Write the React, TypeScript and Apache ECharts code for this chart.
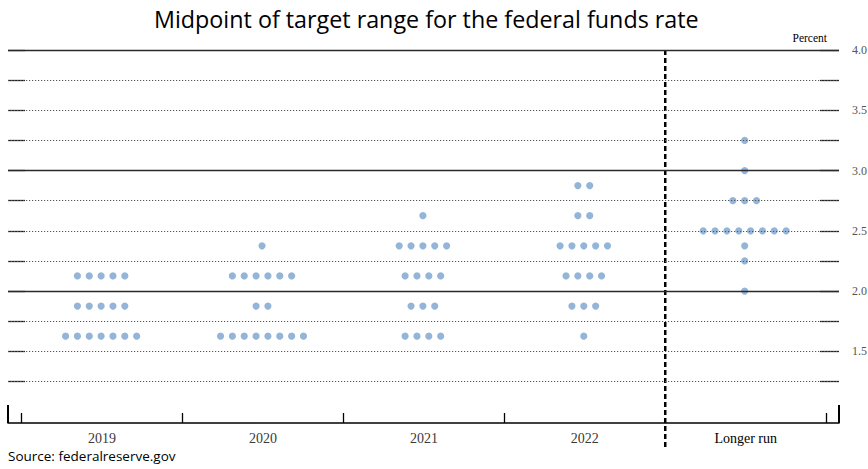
import React, { useEffect, useRef } from "react";
import * as echarts from "echarts";

// ---- data ----
const categories = ["2019", "2020", "2021", "2022", "Longer run"];
// [rate midpoint, number of participants]
const dots2019 = [[2.125, 5], [1.875, 5], [1.625, 7]];
const dots2020 = [[2.375, 1], [2.125, 6], [1.875, 2], [1.625, 8]];
const dots2021 = [[2.625, 1], [2.375, 5], [2.125, 4], [1.875, 3], [1.625, 4]];
const dots2022 = [[2.875, 2], [2.625, 2], [2.375, 5], [2.125, 4], [1.875, 3], [1.625, 1]];
const dotsLongerRun = [[3.25, 1], [3.0, 1], [2.75, 3], [2.5, 8], [2.375, 1], [2.25, 1], [2.0, 1]];
const dotsByCategory = [dots2019, dots2020, dots2021, dots2022, dotsLongerRun];

const gridValues = [1.25, 1.5, 1.75, 2.0, 2.25, 2.5, 2.75, 3.0, 3.25, 3.5, 3.75, 4.0];
const solidGridValues = [2.0, 3.0, 4.0];
const yLabelValues = [1.5, 2.0, 2.5, 3.0, 3.5, 4.0];
const categoryBoundaries = [-0.5, 0.5, 1.5, 2.5, 4.5];
const dividerPosition = 3.5;

const Y_MIN = 0.905;
const Y_MAX = 4.0;
const X_MIN = -0.585;
const X_MAX = 4.58;

const DOT_COLOR = "#95b5d8";
const SERIF = "'Liberation Serif', 'DejaVu Serif', serif";
const SANS = "'Open Sans', 'Noto Sans', sans-serif";

export default function App() {
  const ref = useRef<HTMLDivElement>(null);

  useEffect(() => {
    if (!ref.current) return;
    const chart = echarts.init(ref.current, null, { renderer: "svg" });

    const dotData: number[][] = [];
    dotsByCategory.forEach((rows, ci) => {
      rows.forEach(([rate, count]) => dotData.push([ci, rate, count]));
    });

    const gridLines = gridValues.map((v) => {
      const solid = solidGridValues.includes(v);
      return {
        yAxis: v,
        lineStyle: solid
          ? { color: "#2a2a2a", width: 1.3, type: "solid" }
          : { color: "#555", width: 1, type: [1.2, 1.8] },
      };
    });

    const option: any = {
      animation: false,
      backgroundColor: "#ffffff",
      title: [
        {
          text: "Midpoint of target range for the federal funds rate",
          left: 149,
          top: 2,
          textStyle: { fontFamily: SANS, fontSize: 23.3, fontWeight: "normal", color: "#000" },
        },
        {
          text: "Source: federalreserve.gov",
          left: 8,
          top: 449,
          padding: 0,
          textStyle: { fontFamily: SANS, fontSize: 13.5, fontWeight: "normal", color: "#000" },
        },
      ],
      grid: {
        left: 8,
        right: 29,
        top: 50,
        bottom: 46,
        containLabel: false,
        outerBoundsMode: "none",
      },
      xAxis: [
        {
          type: "value",
          min: X_MIN,
          max: X_MAX,
          position: "bottom",
          axisLine: { show: true, onZero: false, lineStyle: { color: "#000", width: 1.6 } },
          axisTick: {
            show: true,
            inside: true,
            length: 10,
            customValues: categoryBoundaries,
            lineStyle: { color: "#000", width: 1.3 },
          },
          axisLabel: {
            show: true,
            customValues: [0, 1, 2, 3, 4],
            margin: 8,
            formatter: (v: number) => {
              const i = Math.round(v);
              return i === 4 ? `{lr|${categories[i]}}` : `{yr|${categories[i]}}`;
            },
            rich: {
              yr: { fontFamily: SERIF, fontSize: 14, color: "#3a3a3a" },
              lr: { fontFamily: SERIF, fontSize: 14, color: "#000" },
            },
          },
          splitLine: { show: false },
        },
        {
          type: "value",
          min: X_MIN,
          max: X_MAX,
          position: "bottom",
          axisLine: { show: false, onZero: false },
          axisTick: {
            show: true,
            inside: true,
            length: 18,
            customValues: [X_MIN, X_MAX],
            lineStyle: { color: "#000", width: 2 },
          },
          axisLabel: { show: false },
          splitLine: { show: false },
        },
      ],
      yAxis: [
        {
          type: "value",
          min: Y_MIN,
          max: Y_MAX,
          position: "left",
          axisLine: { show: false, onZero: false },
          axisTick: {
            show: true,
            inside: true,
            length: 17,
            customValues: gridValues,
            lineStyle: { color: "#222", width: 1.3 },
          },
          axisLabel: { show: false },
          splitLine: { show: false },
        },
        {
          type: "value",
          min: Y_MIN,
          max: Y_MAX,
          position: "right",
          axisLine: { show: false, onZero: false },
          axisTick: {
            show: true,
            inside: true,
            length: 19,
            customValues: gridValues,
            lineStyle: { color: "#222", width: 1.3 },
          },
          axisLabel: {
            show: true,
            customValues: yLabelValues,
            formatter: (v: number) => v.toFixed(1),
            margin: 13,
            fontFamily: SERIF,
            fontSize: 12,
            color: "#555",
          },
          splitLine: { show: false },
          name: "Percent",
          nameLocation: "end",
          nameGap: 6,
          nameTextStyle: {
            fontFamily: SERIF,
            fontSize: 11.5,
            color: "#000",
            align: "right",
            padding: [0, 12, 0, 0],
          },
        },
      ],
      series: [
        {
          type: "scatter",
          name: "gridlines",
          data: [],
          silent: true,
          markLine: {
            silent: true,
            symbol: ["none", "none"],
            label: { show: false },
            data: gridLines,
          },
        },
        {
          type: "custom",
          name: "divider",
          silent: true,
          clip: false,
          data: [[dividerPosition, Y_MAX]],
          renderItem: (params: any, api: any) => {
            const top = api.coord([api.value(0), api.value(1)]);
            const bottom = api.coord([api.value(0), Y_MIN]);
            return {
              type: "line",
              shape: { x1: top[0], y1: top[1], x2: bottom[0], y2: bottom[1] + 25 },
              style: { stroke: "#000", lineWidth: 2.5, lineDash: [5, 3] },
            };
          },
        },
        {
          type: "custom",
          name: "participants",
          silent: true,
          clip: false,
          data: dotData,
          renderItem: (params: any, api: any) => {
            const c = api.coord([api.value(0), api.value(1)]);
            const n = api.value(2);
            const step = 11.85;
            const children = [];
            for (let j = 0; j < n; j++) {
              children.push({
                type: "circle",
                shape: { cx: c[0] - 1 + (j - (n - 1) / 2) * step, cy: c[1], r: 3.6 },
                style: { fill: DOT_COLOR },
              });
            }
            return { type: "group", children };
          },
        },
      ],
    };

    chart.setOption(option);
    return () => chart.dispose();
  }, []);

  return (
    <div
      ref={ref}
      style={{ position: "absolute", left: 0, top: 0, width: 868, height: 469 }}
    />
  );
}
